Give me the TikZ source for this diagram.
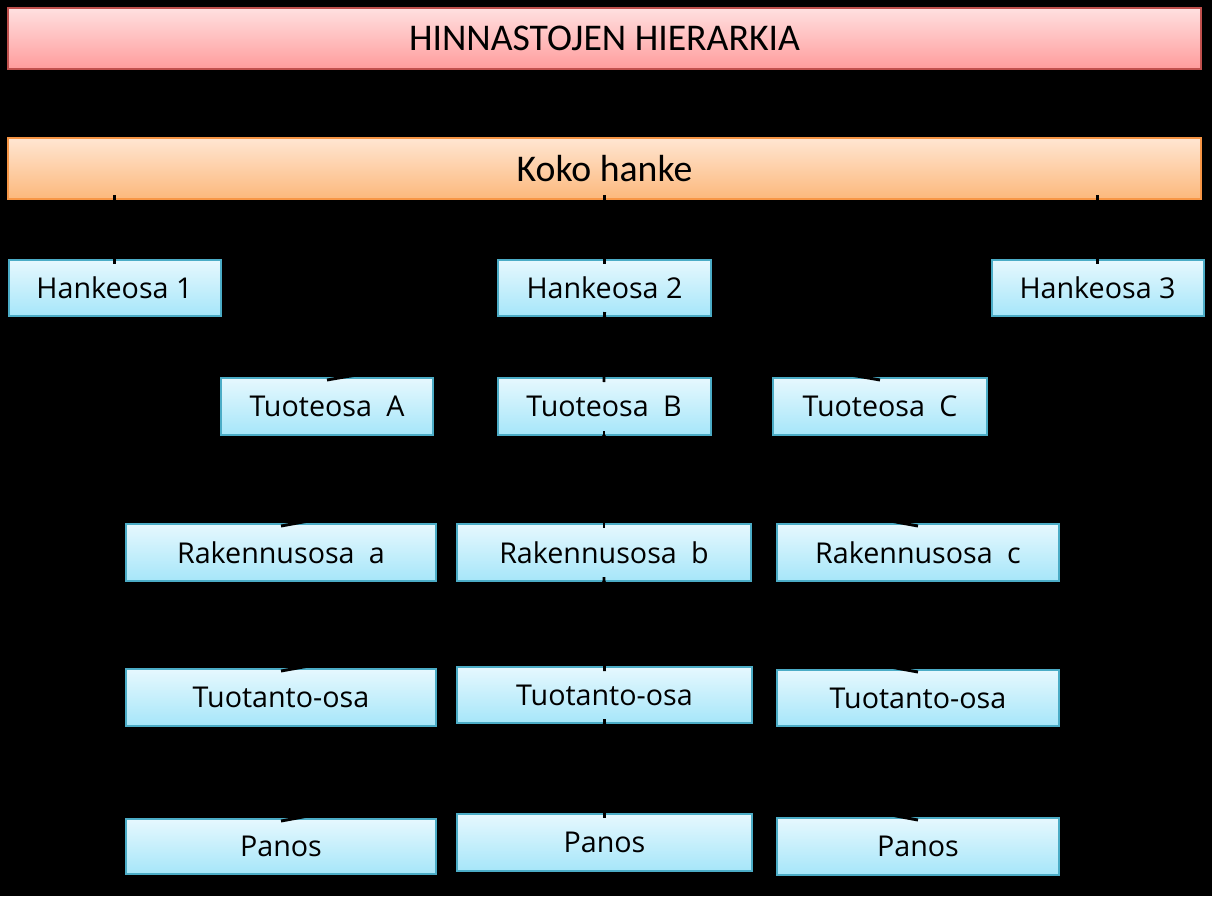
\documentclass[tikz,border=0pt]{standalone}
\usepackage{fontspec}
\setmainfont{Open Sans}
\newfontfamily\calfont{Carlito}
\begin{document}
\begin{tikzpicture}[x=0.75pt,y=-0.75pt,
  bx/.style 2 args={minimum width=#1*0.75pt, minimum height=#2*0.75pt},
  blue box/.style={draw={rgb,255:red,75;green,172;blue,198}, line width=1.5pt,
    top color={rgb,255:red,230;green,248;blue,254},
    bottom color={rgb,255:red,166;green,230;blue,249},
    inner sep=0pt, outer sep=0pt, font=\fontsize{21.5pt}{25pt}\selectfont},
  red box/.style={draw={rgb,255:red,192;green,80;blue,77}, line width=1.5pt,
    top color={rgb,255:red,255;green,224;blue,224},
    bottom color={rgb,255:red,255;green,156;blue,156},
    inner sep=0pt, outer sep=0pt, font=\calfont\fontsize{28.3pt}{32pt}\selectfont},
  orange box/.style={draw={rgb,255:red,247;green,150;blue,70}, line width=1.5pt,
    top color={rgb,255:red,255;green,230;blue,210},
    bottom color={rgb,255:red,252;green,184;blue,124},
    inner sep=0pt, outer sep=0pt, font=\calfont\fontsize{28.3pt}{32pt}\selectfont},
  conn/.style={draw=black, line width=2.2pt},
  straight conn/.style={conn, shorten >=-3pt, shorten <=-3pt}
]
\fill[black] (0,0) rectangle (1212,896);
\useasboundingbox (0,0) rectangle (1212,896);

% title and top level
\node[red box, bx={1193}{61}] (title) at (604.5,38.5) {HINNASTOJEN HIERARKIA};
\node[orange box, bx={1193}{61}] (koko) at (604.5,168.5) {Koko hanke};

% hankeosat
\node[blue box, bx={212}{56}] (h1) at (114.5,288) {Hankeosa 1};
\node[blue box, bx={213}{56}] (h2) at (604.5,288) {Hankeosa 2};
\node[blue box, bx={212}{56}] (h3) at (1097.5,288) {Hankeosa 3};

% tuoteosat
\node[blue box, bx={212}{57}] (ta) at (327,406.5) {Tuoteosa\hspace{0.5em}A};
\node[blue box, bx={213}{57}] (tb) at (604,406.5) {Tuoteosa\hspace{0.5em}B};
\node[blue box, bx={214}{57}] (tc) at (880,406.5) {Tuoteosa\hspace{0.5em}C};

% rakennusosat
\node[blue box, bx={310}{57}] (ra) at (281,552.5) {Rakennusosa\hspace{0.5em}a};
\node[blue box, bx={294}{57}] (rb) at (604,552.5) {Rakennusosa\hspace{0.5em}b};
\node[blue box, bx={282}{57}] (rc) at (918,552.5) {Rakennusosa\hspace{0.5em}c};

% tuotanto-osat
\node[blue box, bx={310}{57}] (pa) at (281,697.5) {Tuotanto-osa};
\node[blue box, bx={295}{56}] (pb) at (604.5,695) {Tuotanto-osa};
\node[blue box, bx={282}{56}] (pc) at (918,698) {Tuotanto-osa};

% panokset
\node[blue box, bx={310}{55}] (na) at (281,846.5) {Panos};
\node[blue box, bx={295}{57}] (nb) at (604.5,842.5) {Panos};
\node[blue box, bx={282}{57}] (nc) at (918,846.5) {Panos};

% connectors: Koko hanke -> Hankeosat
\draw[straight conn] (koko.south -| h1.north) -- (h1.north);
\draw[straight conn] (koko.south -| h2.north) -- (h2.north);
\draw[straight conn] (koko.south -| h3.north) -- (h3.north);

% Hankeosa 2 -> Tuoteosat
\draw[conn] (h2.south) .. controls +(0,30) and +(100,-18) .. ([yshift=-1.5pt]ta.north);
\draw[straight conn] (h2.south) -- (tb.north);
\draw[conn] (h2.south) .. controls +(0,30) and +(-100,-18) .. ([yshift=-1.5pt]tc.north);

% Tuoteosa B -> Rakennusosat
\draw[conn] (tb.south) .. controls +(0,32) and +(100,-18) .. ([yshift=-1.5pt]ra.north);
\draw[straight conn] (tb.south) -- (rb.north);
\draw[conn] (tb.south) .. controls +(0,32) and +(-100,-18) .. ([yshift=-1.5pt]rc.north);

% Rakennusosa b -> Tuotanto-osat
\draw[conn] (rb.south) .. controls +(0,32) and +(100,-18) .. ([yshift=-1.5pt]pa.north);
\draw[straight conn] (rb.south) -- (pb.north);
\draw[conn] (rb.south) .. controls +(0,32) and +(-100,-18) .. ([yshift=-1.5pt]pc.north);

% Tuotanto-osa -> Panokset
\draw[conn] (pb.south) .. controls +(0,32) and +(100,-18) .. ([yshift=-1.5pt]na.north);
\draw[straight conn] (pb.south) -- (nb.north);
\draw[conn] (pb.south) .. controls +(0,32) and +(-100,-18) .. ([yshift=-1.5pt]nc.north);
\end{tikzpicture}
\end{document}
